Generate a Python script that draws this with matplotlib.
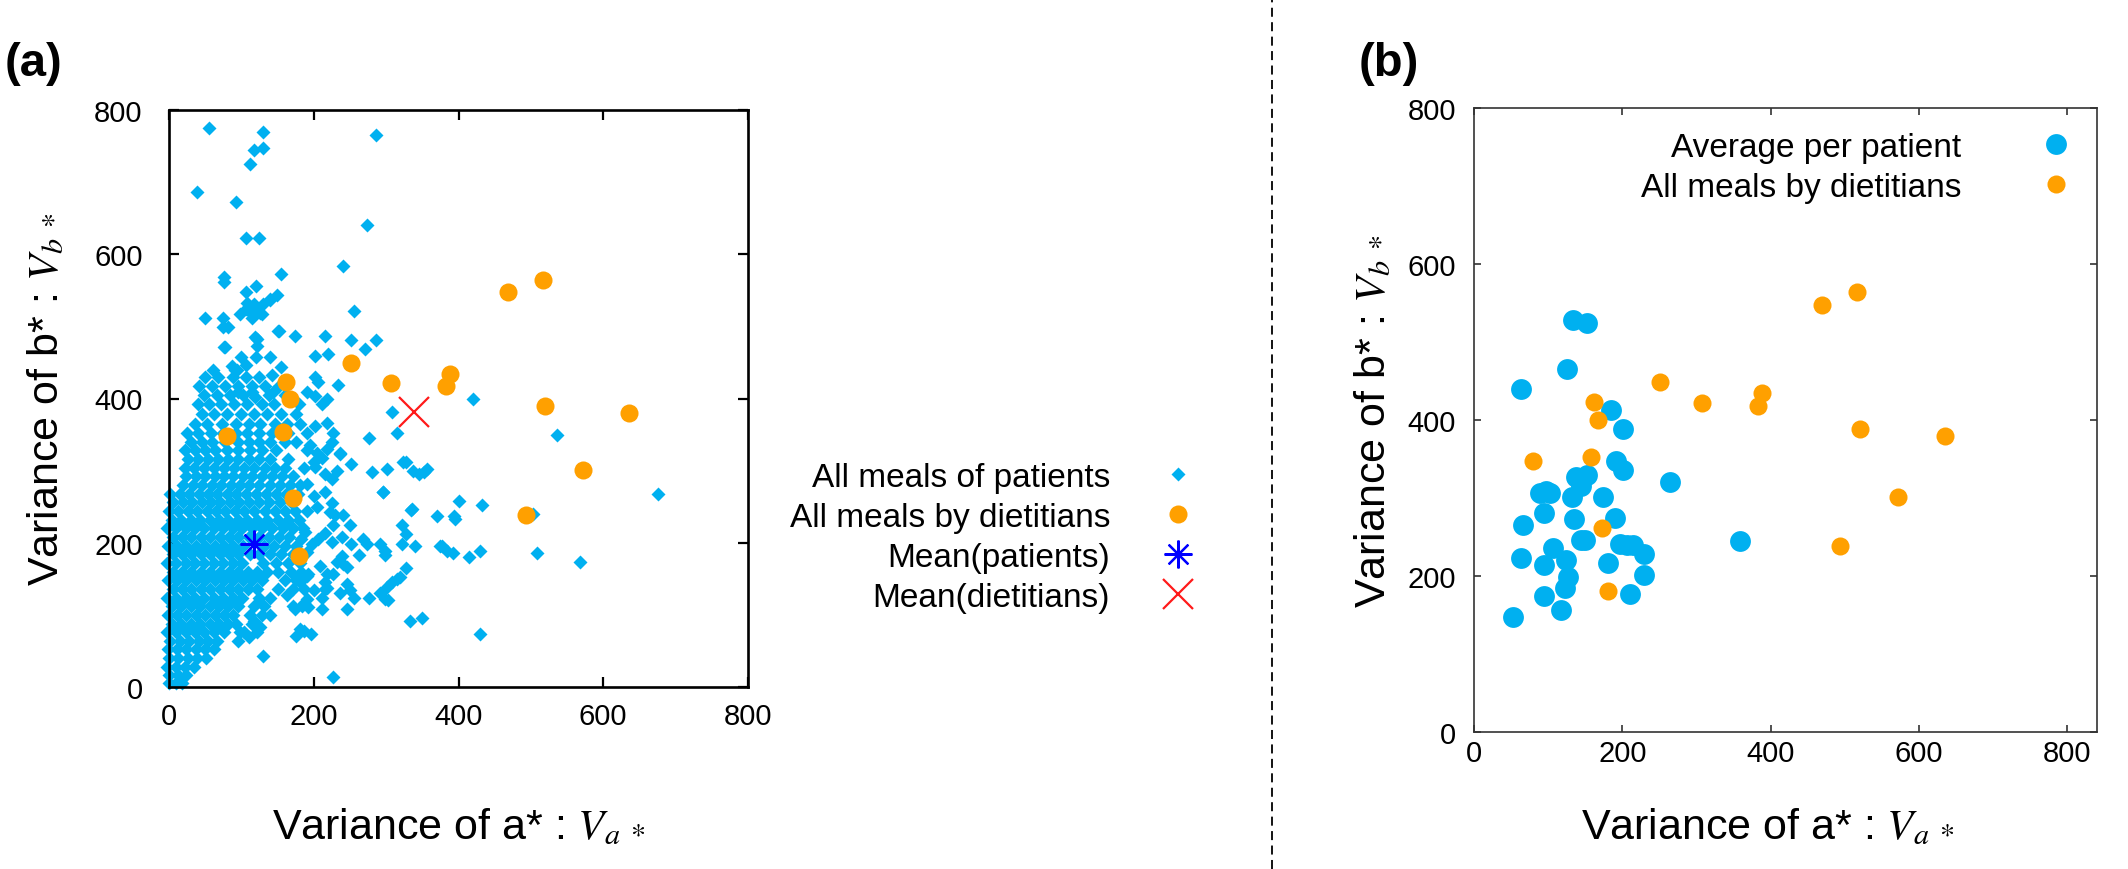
import numpy as np
import matplotlib
matplotlib.use('Agg')
import matplotlib.pyplot as plt
from matplotlib.lines import Line2D

plt.rcParams['font.family'] = ['Liberation Sans', 'DejaVu Sans']
plt.rcParams['mathtext.fontset'] = 'stix'

# meals by dietitians (same points in both panels)
diet_va = [80, 162, 167, 158, 172, 180, 251, 307, 388, 383, 469, 517, 520, 572, 493, 635]
diet_vb = [348, 423, 400, 353, 262, 181, 449, 422, 434, 418, 548, 564, 389, 301, 238, 380]

# average per patient (panel b)
avg_va = [52, 63, 66, 64, 94, 94, 94, 89, 97, 103, 107, 117, 123, 127, 124, 125, 134, 152, 132, 135,
          138, 144, 152, 144, 149, 174, 185, 190, 180, 192, 201, 201, 197, 206, 214, 211, 229, 229, 264, 359]
avg_vb = [147, 440, 265, 223, 174, 214, 281, 306, 309, 307, 236, 157, 185, 199, 221, 466, 528, 524, 301, 273,
          327, 315, 329, 246, 246, 301, 413, 274, 217, 347, 388, 336, 241, 240, 240, 177, 228, 201, 320, 245]

# means (panel a)
mean_patients = (117, 198)
mean_dietitians = (338, 381)

# all meals of patients, scattered part (va, vb)
meal_pts = [
    (55, 775), (130, 769), (117, 744), (130, 747), (112, 725), (286, 766), (39, 687), (92, 672),
    (273, 641), (107, 622), (124, 622), (240, 584), (76, 569), (76, 562), (155, 572), (120, 556),
    (107, 547), (140, 538), (149, 543), (108, 532), (112, 520), (120, 526), (126, 518), (130, 531),
    (115, 512), (50, 512), (75, 512), (75, 499), (256, 522), (152, 493), (174, 487), (215, 487),
    (252, 481), (286, 481), (121, 483), (121, 473), (76, 472), (271, 469), (202, 459), (220, 462),
    (61, 440), (87, 445), (94, 440), (107, 446), (155, 444), (143, 432), (202, 430), (206, 423),
    (234, 419), (95, 409), (114, 409), (119, 402), (144, 409), (190, 409), (202, 404), (211, 392),
    (218, 399), (180, 392), (308, 381), (420, 399), (315, 352), (536, 349), (277, 345), (324, 312),
    (337, 300), (345, 295), (352, 298), (356, 302), (301, 302), (280, 298), (252, 309), (236, 323),
    (295, 270), (401, 258), (433, 252), (335, 245), (370, 237), (394, 237),
    (676, 268), (395, 233), (503, 240), (377, 196), (392, 186), (415, 180), (430, 189), (508, 186),
    (568, 173), (430, 73),
    (98, 517), (107, 524), (121, 520), (128, 517), (117, 531), (140, 536), (82, 499), (151, 494),
    (119, 485), (77, 471), (91, 439),
    (202, 362), (218, 366), (227, 352), (195, 335), (205, 325), (212, 318), (200, 312), (218, 330),
    (225, 340), (236, 325), (202, 305), (215, 295), (225, 288), (232, 300), (327, 312), (190, 281),
    (200, 265), (215, 270), (205, 250), (225, 255), (222, 242), (296, 271), (336, 247), (229, 238),
    (241, 238), (227, 224), (250, 224), (216, 214), (239, 208), (206, 205), (225, 201), (252, 198),
    (268, 205), (273, 198), (292, 198), (298, 189), (322, 224), (328, 212), (322, 198), (340, 196),
    (374, 196), (384, 189), (188, 215), (197, 198), (190, 187), (183, 205),
    (262, 183), (298, 183), (239, 182), (232, 173), (241, 171), (246, 166), (209, 168), (328, 165),
    (192, 157), (218, 157), (227, 157), (216, 145), (218, 137), (246, 143), (250, 134), (236, 131),
    (255, 124), (186, 136), (200, 134), (190, 122), (192, 111), (211, 124), (211, 108), (246, 108),
    (277, 123), (292, 131), (301, 138), (308, 145), (315, 150), (319, 152), (298, 122), (303, 120),
    (333, 92), (349, 95), (181, 80), (196, 73), (227, 14),
    (130, 43), (98, 76), (110, 69), (126, 83), (117, 92), (176, 71), (186, 78), (174, 108),
    (186, 117), (163, 127), (172, 136), (181, 145), (190, 154),
]

# all meals of patients, dense core read row by row: (vb, [va, ...])
core_rows = [
    (5, [0, 9, 18]),
    (16, [0, 12, 24]),
    (28, [-3, 10, 22, 34]),
    (40, [0, 13, 26, 39, 51]),
    (52, [-2, 11, 24, 37, 50, 62]),
    (64, [2, 15, 28, 41, 54, 67, 96]),
    (76, [-3, 10, 23, 36, 49, 62, 76, 104, 121]),
    (88, [4, 17, 30, 43, 56, 69, 82, 92, 115]),
    (100, [-2, 11, 24, 37, 50, 63, 76, 89, 112, 128, 140]),
    (112, [4, 17, 30, 43, 56, 69, 82, 95, 118, 131, 171, 184]),
    (124, [-3, 10, 23, 36, 49, 62, 75, 88, 101, 125, 140]),
    (136, [5, 18, 31, 44, 57, 70, 83, 96, 109, 122, 150, 216]),
    (148, [-2, 11, 24, 37, 50, 63, 76, 89, 102, 115, 128, 160, 175]),
    (160, [5, 18, 31, 44, 57, 70, 83, 96, 109, 122, 136, 150, 168, 182]),
    (172, [-3, 10, 23, 36, 49, 62, 75, 88, 101, 130, 148, 165, 181]),
    (184, [5, 18, 31, 44, 57, 70, 83, 96, 112, 125, 140, 155, 172]),
    (196, [-2, 11, 24, 37, 50, 63, 76, 89, 102, 131, 145, 160, 175]),
    (208, [5, 18, 31, 44, 57, 70, 83, 96, 110, 124, 138, 152, 166]),
    (220, [-3, 10, 23, 36, 49, 62, 75, 88, 101, 115, 129, 143, 157, 171, 185]),
    (232, [4, 17, 30, 43, 56, 69, 82, 95, 108, 122, 136, 150, 165, 180]),
    (244, [0, 13, 26, 39, 52, 65, 78, 91, 104, 118, 132, 146, 160, 174, 190]),
    (256, [6, 19, 32, 45, 58, 71, 84, 97, 110, 124, 138, 153, 168]),
    (268, [2, 15, 28, 41, 54, 67, 80, 93, 106, 120, 134, 148, 162, 178]),
    (280, [20, 33, 46, 59, 72, 85, 98, 111, 125, 139, 153, 167, 181]),
    (292, [24, 37, 50, 63, 76, 89, 102, 115, 128, 142, 156, 172]),
    (304, [22, 35, 48, 62, 76, 90, 104, 118, 132, 146, 160, 186]),
    (316, [26, 40, 54, 68, 82, 96, 110, 124, 140, 165]),
    (328, [22, 36, 50, 64, 80, 96, 112, 128, 148, 190]),
    (340, [30, 45, 60, 78, 95, 110, 125, 140, 160, 175]),
    (352, [25, 40, 58, 75, 92, 108, 125, 143, 165, 190]),
    (364, [36, 52, 73, 93, 110, 126, 147, 163, 181]),
    (378, [45, 62, 80, 100, 118, 135, 155, 175]),
    (392, [40, 55, 72, 90, 108, 128, 145]),
    (405, [48, 66, 84, 102, 138, 160]),
    (418, [42, 60, 78, 95, 114, 133, 152]),
    (430, [50, 68, 88, 107, 125]),
    (458, [100, 120, 140]),
]

ticks = [0, 200, 400, 600, 800]

cyan = '#00B0F0'
orange = '#FFA000'

W, H = 2128, 870


def box(x0, y0, x1, y1):
    # pixel box (top-left origin) -> figure fraction rect
    return [x0 / W, 1 - y1 / H, (x1 - x0) / W, (y1 - y0) / H]


fig = plt.figure(figsize=(W / 100, H / 100), dpi=100)
axL = fig.add_axes(box(169, 111, 748, 688))
axR = fig.add_axes(box(1474, 109, 2097, 733))

# ---- panel (a)
va = [p[0] for p in meal_pts]
vb = [p[1] for p in meal_pts]
for y, xs in core_rows:
    va += xs
    vb += [y] * len(xs)

axL.plot(va, vb, 'D', ms=7.0, color=cyan, mec='none', clip_on=False, label='All meals of patients')
axL.plot(diet_va, diet_vb, 'o', ms=13, color=orange, mec='none', label='All meals by dietitians')
axL.plot(*mean_patients, marker=(8, 2, 0), ms=20, mew=1.6, color='#0000FF', ls='none',
         label='Mean(patients)')
axL.plot(*mean_dietitians, 'x', ms=21, mew=1.6, color='#FF1A1A', ls='none', label='Mean(dietitians)')

axL.set_xlim(0, 800)
axL.set_ylim(0, 800)
axL.set_xticks(ticks)
axL.set_yticks(ticks)
axL.tick_params(direction='in', length=7, width=1.6, top=True, right=True, labelsize=21)
axL.tick_params(axis='y', pad=19)
axL.tick_params(axis='x', pad=11)
for s in axL.spines.values():
    s.set_linewidth(1.9)

axL.set_xlabel('Variance of a* : $V_{a\\ *}$', fontsize=31)
axL.xaxis.set_label_coords(0.5, (688 - 828) / 577)
axL.xaxis.label.set_va('center')
axL.set_ylabel('Variance of b* : $V_{b\\ *}$', fontsize=31)
axL.yaxis.set_label_coords((47 - 169) / 579, 0.5)
axL.yaxis.label.set_va('center')

fig.legend(*axL.get_legend_handles_labels(), loc='upper right',
           bbox_to_anchor=(1195 / W, 1 - 463 / H), frameon=False, markerfirst=False,
           fontsize=24, handlelength=1.0, handletextpad=1.55, labelspacing=0.27,
           borderpad=0, borderaxespad=0)

# ---- panel (b)
axR.plot(avg_va, avg_vb, 'o', ms=15, color=cyan, mec='none', label='Average per patient')
axR.plot(diet_va, diet_vb, 'o', ms=13, color=orange, mec='none', label='All meals by dietitians')
axR.set_xlim(0, 840)
axR.set_ylim(0, 800)
axR.set_xticks(ticks)
axR.set_yticks(ticks)
axR.tick_params(direction='in', length=5, width=1.2, top=True, right=True, labelsize=21,
                color='#333333')
axR.tick_params(axis='y', pad=13)
axR.tick_params(axis='x', pad=5)
for s in axR.spines.values():
    s.set_linewidth(1.2)
    s.set_color('#333333')

axR.set_xlabel('Variance of a* : $V_{a\\ *}$', fontsize=31)
axR.xaxis.set_label_coords((1768 - 1474) / 623, (733 - 828) / 624)
axR.xaxis.label.set_va('center')
axR.set_ylabel('Variance of b* : $V_{b\\ *}$', fontsize=31)
axR.yaxis.set_label_coords((1374 - 1474) / 623, 0.5)
axR.yaxis.label.set_va('center')

fig.legend(*axR.get_legend_handles_labels(), loc='upper right',
           bbox_to_anchor=(2073 / W, 1 - 133 / H), frameon=False, markerfirst=False,
           fontsize=24, handlelength=1.0, handletextpad=2.35, labelspacing=0.27,
           borderpad=0, borderaxespad=0)

# panel letters and divider
fig.text(5 / W, 1 - 64 / H, '(a)', fontsize=34, fontweight='bold', va='center', ha='left')
fig.text(1359 / W, 1 - 64 / H, '(b)', fontsize=34, fontweight='bold', va='center', ha='left')
fig.add_artist(Line2D([1272 / W, 1272 / W], [0, 1], transform=fig.transFigure,
                      color='black', lw=1.3, ls=(0, (5, 3))))

fig.savefig('out.png', dpi=100)
